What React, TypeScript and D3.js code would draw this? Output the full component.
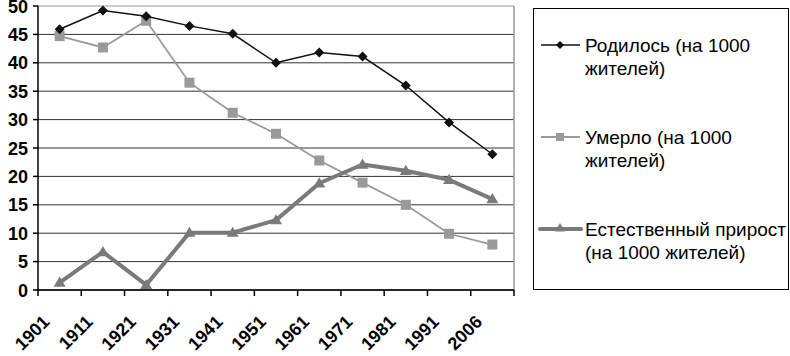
import React from "react";
import * as d3 from "d3";

const years = ["1901", "1911", "1921", "1931", "1941", "1951", "1961", "1971", "1981", "1991", "2006"];
const births = [45.9, 49.2, 48.2, 46.5, 45.1, 40.0, 41.8, 41.1, 36.0, 29.5, 23.9];
const deaths = [44.7, 42.7, 47.4, 36.5, 31.2, 27.5, 22.8, 18.9, 15.0, 9.9, 8.0];
const growth = [1.3, 6.7, 0.9, 10.1, 10.1, 12.3, 18.8, 22.1, 21.0, 19.4, 16.0];
const yTicks = [0, 5, 10, 15, 20, 25, 30, 35, 40, 45, 50];
const legendLabels = [
  ["Родилось (на 1000", "жителей)"],
  ["Умерло (на 1000", "жителей)"],
  ["Естественный прирост", "(на 1000 жителей)"],
];

const FONT = "'Liberation Sans', Arial, sans-serif";

export default function App() {
  const W = 790, H = 356;
  const left = 38, right = 514, top = 6, bottom = 290;
  const x = d3.scaleBand<string>().domain(years).range([left, right]).padding(0);
  const y = d3.scaleLinear().domain([0, 50]).range([bottom, top]);
  const cx = (i: number) => (x(years[i]) as number) + x.bandwidth() / 2;
  const line = d3.line<number>().x((_, i) => cx(i)).y((d) => y(d));

  const diamond = (px: number, py: number, s = 5) =>
    `M${px},${py - s}L${px + s},${py}L${px},${py + s}L${px - s},${py}Z`;
  const tri = (px: number, py: number, s = 6) =>
    `M${px},${py - s}L${px + s},${py + s * 0.7}L${px - s},${py + s * 0.7}Z`;

  const legY = [45, 137, 229];

  return (
    <svg width={W} height={H} style={{ position: "absolute", left: 0, top: 0, background: "#fff" }} fontFamily={FONT}>
      <rect x={0} y={0} width={W} height={H} fill="#fff" />
      {yTicks.map((t) => (
        <line key={t} x1={left} x2={right} y1={y(t)} y2={y(t)} stroke={t === 50 ? "#999" : "#333"} strokeWidth={1} />
      ))}
      <line x1={right} x2={right} y1={top} y2={bottom} stroke="#999" strokeWidth={1.5} />
      <line x1={left} x2={left} y1={top} y2={bottom} stroke="#000" strokeWidth={1.5} />
      <line x1={left} x2={right} y1={bottom} y2={bottom} stroke="#000" strokeWidth={1.5} />
      {yTicks.map((t) => (
        <g key={"yt" + t}>
          <line x1={left - 5} x2={left} y1={y(t)} y2={y(t)} stroke="#000" strokeWidth={1.5} />
          <text x={28} y={y(t) + 6.5} textAnchor="end" fontSize={18} fontWeight="bold" fill="#000">{t}</text>
        </g>
      ))}
      {years.map((yr) => (
        <line key={"xt" + yr} x1={x(yr) as number} x2={x(yr) as number} y1={bottom} y2={bottom + 6} stroke="#000" strokeWidth={1.5} />
      ))}
      <line x1={right} x2={right} y1={bottom} y2={bottom + 6} stroke="#000" strokeWidth={1.5} />
      {years.map((yr, i) => (
        <text key={"xl" + yr} transform={`translate(${cx(i) - 9},${323}) rotate(-45)`} textAnchor="end" fontSize={18} fontWeight="bold" fill="#000">{yr}</text>
      ))}

      <path d={line(deaths) as string} fill="none" stroke="#9a9a9a" strokeWidth={1.8} />
      {deaths.map((d, i) => (
        <rect key={"d" + i} x={cx(i) - 5} y={y(d) - 5} width={10} height={10} fill="#9a9a9a" />
      ))}
      <path d={line(births) as string} fill="none" stroke="#111" strokeWidth={1.5} />
      {births.map((d, i) => (
        <path key={"b" + i} d={diamond(cx(i), y(d))} fill="#111" />
      ))}
      <path d={line(growth) as string} fill="none" stroke="#7a7a7a" strokeWidth={4} strokeLinejoin="round" />
      {growth.map((d, i) => (
        <path key={"g" + i} d={tri(cx(i), y(d))} fill="#7a7a7a" />
      ))}

      <rect x={533.5} y={8.5} width={255} height={281} fill="#fff" stroke="#000" strokeWidth={1} />
      <line x1={541} x2={580} y1={legY[0]} y2={legY[0]} stroke="#111" strokeWidth={1.5} />
      <path d={diamond(560, legY[0], 4)} fill="#111" />
      <line x1={541} x2={580} y1={legY[1]} y2={legY[1]} stroke="#9a9a9a" strokeWidth={1.8} />
      <rect x={556} y={legY[1] - 4} width={8} height={8} fill="#9a9a9a" />
      <line x1={540} x2={581} y1={legY[2]} y2={legY[2]} stroke="#7a7a7a" strokeWidth={4} strokeLinecap="round" />
      <path d={tri(560, legY[2] - 1, 5)} fill="#7a7a7a" />
      {legendLabels.map((lines, k) => (
        <text key={"lg" + k} x={585} y={legY[k] + 7} fontSize={19} fill="#000">
          {lines.map((s, j) => (
            <tspan key={j} x={585} dy={j === 0 ? 0 : 23}>{s}</tspan>
          ))}
        </text>
      ))}
    </svg>
  );
}
